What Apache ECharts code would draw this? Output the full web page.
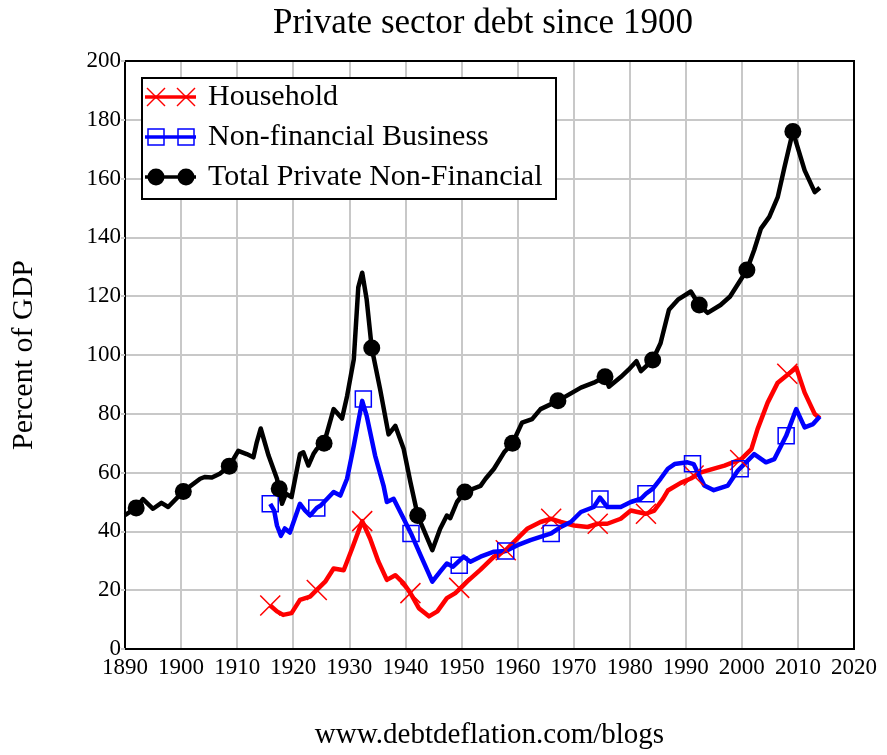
<!DOCTYPE html>
<html>
<head>
<meta charset="utf-8">
<script src="https://cdn.jsdelivr.net/npm/echarts@6/dist/echarts.min.js"></script>
<style>
html,body{margin:0;padding:0;background:#fff;}
#chart{width:887px;height:755px;}
</style>
</head>
<body>
<div id="chart"></div>
<script>
// ---- Data ----
var householdYears = [1915.9,1917.1,1918.2,1919.7,1921.2,1923,1924.2,1925.7,1927.2,1929,1930.5,1932.3,1933.7,1935.2,1936.7,1938.2,1939.7,1940.9,1942.4,1944.2,1945.7,1947.4,1948.9,1949.8,1951,1953.4,1955.8,1957.9,1960,1961.8,1964.1,1966,1967.7,1970.1,1972.5,1974.3,1976,1978.4,1980.2,1981.4,1982.9,1984.4,1985.9,1986.8,1989.1,1990.9,1992.7,1996.9,1999.9,2001.7,2002.8,2004.6,2006.4,2008.2,2009.7,2011.2,2013,2013.9];
var householdVals  = [14.8,12.8,11.6,12.2,16.7,17.8,20.1,22.9,27.4,26.8,34.2,43.5,37.6,29.7,23.5,25.1,22.3,19,13.9,11.1,12.8,17.3,19,20.6,22.9,27,31.4,33.6,37.6,41,43.2,44.3,43.2,42,41.5,42.6,42.6,44.3,47.1,46.6,46,47.1,51,53.9,56.5,58,60.1,62.4,64.6,68,74.8,83.8,90.6,93.4,95.7,87.2,79.9,78.5];

var businessYears = [1915.9,1916.6,1917.1,1917.8,1918.5,1919.4,1921.2,1922.1,1923,1924.2,1924.9,1927.2,1928.4,1929.6,1930.8,1932.3,1933.1,1934.6,1936.1,1936.7,1937.9,1939.7,1941,1942.7,1944.8,1946.2,1947.4,1948.5,1950.4,1951.6,1953.4,1955.8,1957.9,1960,1962.3,1966,1967.7,1969.5,1971.3,1973.6,1974.7,1976,1978.4,1980.2,1982,1982.9,1984.1,1985.5,1986.8,1988,1990.3,1991.4,1992.1,1993.3,1995,1997.5,1999.3,2002.2,2004.3,2005.8,2007,2007.9,2009.7,2011.2,2012.7,2013.9];
var businessVals  = [49.4,47.1,42,38.5,41,39.6,49.4,47.1,45.4,48,48.8,53.4,52.2,57.9,69.1,84.4,79.3,65.8,55.6,50,51.1,44.3,39.3,31.9,22.9,26.3,29.1,28,31.4,29.7,31.4,33.1,33.3,35.3,37,39.3,41.5,43.2,46.6,48.3,51.5,48.3,48.3,50,51.1,52.8,54.5,57.9,61.3,62.9,63.5,62.9,60.1,55.6,54,55.6,60.7,66.3,63.5,64.6,69.1,72.5,81.6,75.4,76.5,79.1];

var totalYears = [1890,1892,1893.2,1895,1896.5,1897.7,1900.4,1903.4,1904.2,1905.5,1906.9,1908.6,1910.2,1911.7,1912.9,1913.5,1914.2,1915.6,1917.1,1918,1918.7,1919.7,1921.2,1921.8,1922.7,1923.6,1924.2,1925.5,1927.2,1928.7,1929.6,1930.8,1931.6,1932.3,1933.1,1934,1935.5,1937,1938.2,1939.7,1940.9,1942.2,1944.8,1946.2,1947.4,1948,1949.2,1950.6,1953.4,1954.3,1955.8,1957.6,1959.1,1960.8,1962.6,1964.1,1967.2,1971.3,1973.6,1975.6,1976.3,1978.4,1979.8,1981.2,1982,1984.1,1985.5,1987,1988.6,1990.9,1992.4,1993.9,1996.2,1997.9,2000.9,2002.2,2003.4,2004.9,2006.4,2007.6,2009.1,2011.2,2013,2013.9];
var totalVals  = [45.5,48,51,47.7,49.7,48.3,53.6,57.9,58.5,58.3,59.6,62.2,67.4,66.3,65.2,70.3,75,65.8,57.9,49.4,52.8,51.7,66.3,66.9,62.4,66.3,68,70,81.6,78.4,86,98.5,123,128,118.8,102.4,88.3,73,75.9,68,56.7,45.4,33.6,40.9,45.4,44.5,50,53.4,55.5,57.9,61.3,66.9,70,77,78.2,81.6,84.4,88.9,90.6,92.6,89.2,92.5,95,97.9,94.5,98.3,104,115.4,118.8,121.6,117,114.3,117,119.9,128.9,135.7,143,147,153.7,163.9,176,162.8,155.4,156.9];

// marker positions as seen on the picture
var householdMarkYears = [1915.9,1924.2,1932.3,1940.9,1949.6,1957.9,1966,1974.3,1982.9,1991.4,1999.7,2008.1];
var householdMarkVals  = [14.8,20.1,43.5,19,20.8,33.6,44.3,42.6,46,59,64.3,93.6];
var businessMarkYears  = [1915.9,1924.2,1932.5,1941,1949.6,1957.9,1966,1974.7,1982.9,1991.2,1999.7,2007.9];
var businessMarkVals   = [49.4,48,85,39.3,28.5,33.3,39.3,51,52.8,63,61.3,72.5];
var totalMarkYears     = [1892,1900.4,1908.6,1917.5,1925.5,1934,1942.2,1950.6,1959.1,1967.2,1975.6,1984.1,1992.4,2000.9,2009.1];
var totalMarkVals      = [48,53.6,62.2,54.5,70,102.4,45.4,53.4,70,84.4,92.6,98.3,117,128.9,176];

var seriesNames = ['Household','Non-financial Business','Total Private Non-Financial'];
var titleText = 'Private sector debt since 1900';
var yAxisTitle = 'Percent of GDP';
var xAxisTitle = 'www.debtdeflation.com/blogs';

function pairs(xs, ys){ return xs.map(function(x,i){ return [x, ys[i]]; }); }

var FONT = '"Liberation Serif","Times New Roman",serif';
var RED = '#ff0000', BLUE = '#0000ff', BLACK = '#000000';
var XPATH = 'path://M0,0L10,10M10,0L0,10';

var chart = echarts.init(document.getElementById('chart'));

// legend drawn with graphic elements
function legendRow(y, color, kind, text){
  var els = [{type:'line', shape:{x1:145,y1:y,x2:196,y2:y}, style:{stroke:color, lineWidth:3.5}}];
  [156,186].forEach(function(cx){
    if(kind==='x'){
      els.push({type:'line', shape:{x1:cx-9,y1:y-9,x2:cx+9,y2:y+9}, style:{stroke:color,lineWidth:1.5}});
      els.push({type:'line', shape:{x1:cx+9,y1:y-9,x2:cx-9,y2:y+9}, style:{stroke:color,lineWidth:1.5}});
    } else if(kind==='sq'){
      els.push({type:'rect', shape:{x:cx-8,y:y-8,width:16,height:16}, style:{fill:'none',stroke:color,lineWidth:1.5}});
    } else {
      els.push({type:'circle', shape:{cx:cx,cy:y,r:8.5}, style:{fill:color}});
    }
  });
  els.push({type:'text', x:208, y:y, style:{text:text, font:'30px '+FONT, fill:'#000', verticalAlign:'middle'}});
  return els;
}

var legendEls = [{type:'rect', shape:{x:142,y:78,width:414,height:121}, style:{fill:'#fff', stroke:'#000', lineWidth:2}}]
  .concat(legendRow(97, RED, 'x', seriesNames[0]))
  .concat(legendRow(137, BLUE, 'sq', seriesNames[1]))
  .concat(legendRow(177, BLACK, 'dot', seriesNames[2]));
legendEls.forEach(function(e){ e.z = 100; });

var frameAxis = {axisLine:{show:true, onZero:false, lineStyle:{color:'#000', width:2}}, axisTick:{show:false}, axisLabel:{show:false}, splitLine:{show:false}};

var option = {
  animation:false,
  backgroundColor:'#fff',
  title:{text:titleText, left:268, top:1, textStyle:{fontFamily:FONT, fontSize:35, fontWeight:'normal', color:'#000'}},
  grid:{left:125, right:33, top:61, bottom:104, show:true, borderColor:'#000', borderWidth:2, backgroundColor:'#fff'},
  xAxis:[{
    type:'value', min:1890, max:2020, interval:10,
    name:xAxisTitle, nameLocation:'middle', nameGap:72,
    nameTextStyle:{fontFamily:FONT, fontSize:29, color:'#000'},
    axisLine:{show:true, onZero:false, lineStyle:{color:'#000', width:2}},
    axisTick:{show:false},
    axisLabel:{fontFamily:FONT, fontSize:23, color:'#000', margin:7, formatter:function(v){ return String(v); }},
    splitLine:{show:true, lineStyle:{color:'#c8c8c8', width:2}}
  }, Object.assign({type:'value', min:1890, max:2020, interval:10, position:'top'}, frameAxis)],
  yAxis:[{
    type:'value', min:0, max:200, interval:20,
    name:yAxisTitle, nameLocation:'middle', nameGap:86,
    nameTextStyle:{fontFamily:FONT, fontSize:30, color:'#000'},
    axisLine:{show:true, onZero:false, lineStyle:{color:'#000', width:2}},
    axisTick:{show:true, length:4, lineStyle:{color:'#c8c8c8', width:2}},
    axisLabel:{fontFamily:FONT, fontSize:23, color:'#000', margin:4},
    splitLine:{show:true, lineStyle:{color:'#c8c8c8', width:2}}
  }, Object.assign({type:'value', min:0, max:200, interval:20, position:'right'}, frameAxis)],
  series:[
    {name:seriesNames[0], type:'line', data:pairs(householdYears, householdVals), showSymbol:false, symbol:'none',
      lineStyle:{color:RED, width:4.5, join:'round'}, z:2},
    {name:seriesNames[1], type:'line', data:pairs(businessYears, businessVals), showSymbol:false, symbol:'none',
      lineStyle:{color:BLUE, width:4.5, join:'round'}, z:3},
    {name:seriesNames[2], type:'line', data:pairs(totalYears, totalVals), showSymbol:false, symbol:'none',
      lineStyle:{color:BLACK, width:4.5, join:'round'}, z:4},
    {name:seriesNames[0]+' markers', type:'scatter', data:pairs(householdMarkYears, householdMarkVals), symbol:XPATH, symbolSize:20,
      itemStyle:{color:'rgba(0,0,0,0)', borderColor:RED, borderWidth:1.5, opacity:1}, z:5, silent:true},
    {name:seriesNames[1]+' markers', type:'scatter', data:pairs(businessMarkYears, businessMarkVals), symbol:'rect', symbolSize:16,
      itemStyle:{color:'rgba(0,0,0,0)', borderColor:BLUE, borderWidth:1.5, opacity:1}, z:5, silent:true},
    {name:seriesNames[2]+' markers', type:'scatter', data:pairs(totalMarkYears, totalMarkVals), symbol:'circle', symbolSize:17,
      itemStyle:{color:BLACK, opacity:1}, z:6, silent:true}
  ],
  graphic:{elements:legendEls}
};
chart.setOption(option);
</script>
</body>
</html>
